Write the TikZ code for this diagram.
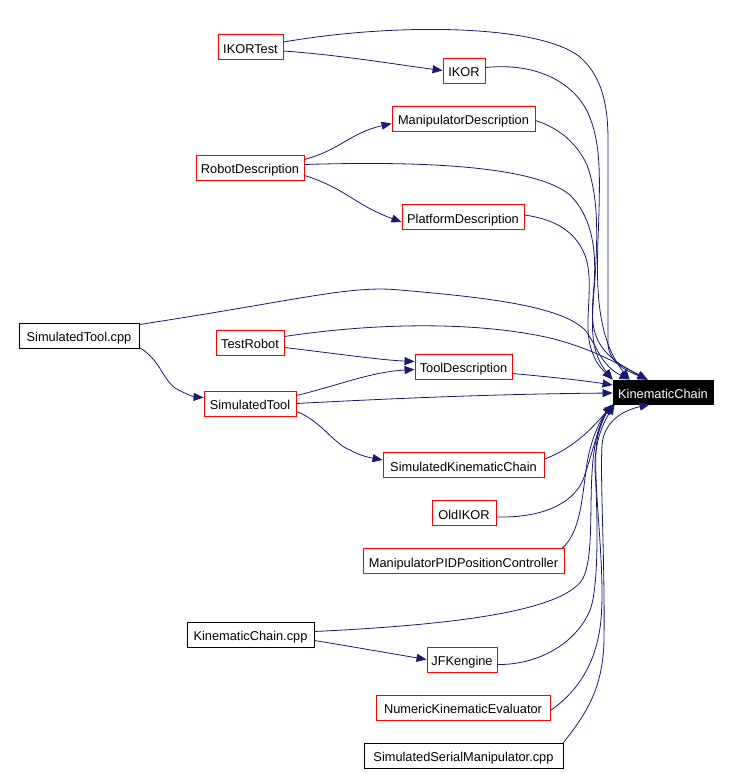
\documentclass[tikz,border=0pt]{standalone}
\usepackage{fontspec}
\setmainfont{Liberation Sans}
\usetikzlibrary{arrows.meta}
\definecolor{edgeblue}{RGB}{25,25,112}
\tikzset{
  box/.style={draw=red, line width=0.9pt, rectangle, inner sep=0pt, minimum height=25pt, text height=12pt, text depth=0pt, font=\fontsize{12.8}{15}\selectfont},
  filebox/.style={box, draw=black},
  mainbox/.style={box, draw=black, fill=black, text=white, minimum height=24pt},
  edge/.style={draw=edgeblue, line width=0.8pt, -{Triangle[length=10pt,width=8pt]}}
}
\begin{document}
\begin{tikzpicture}[x=1pt,y=-1pt]
\useasboundingbox (0,0) rectangle (731,774);
% nodes
\node[box, minimum width=65pt] (ikortest) at (250.5,47) {IKORTest};
\node[box, minimum width=42pt] (ikor) at (464,70.5) {IKOR};
\node[box, minimum width=143pt] (md) at (463.5,118.5) {ManipulatorDescription};
\node[box, minimum width=108pt] (rd) at (250,167.5) {RobotDescription};
\node[box, minimum width=122pt] (pd) at (463,217) {PlatformDescription};
\node[filebox, minimum width=120pt] (stcpp) at (79,335.5) {SimulatedTool.cpp};
\node[box, minimum width=68pt] (tr) at (250,342.5) {TestRobot};
\node[box, minimum width=97pt] (td) at (463.5,366.5) {ToolDescription};
\node[box, minimum width=92pt] (st) at (250,403.5) {SimulatedTool};
\node[mainbox, minimum width=100pt] (kc) at (663,392) {KinematicChain};
\node[box, minimum width=161pt] (skc) at (463.5,465) {SimulatedKinematicChain};
\node[box, minimum width=64pt] (oldikor) at (464,513) {OldIKOR};
\node[box, minimum width=201pt] (mppc) at (463.5,561) {ManipulatorPIDPositionController};
\node[filebox, minimum width=127pt] (kccpp) at (250.5,634.5) {KinematicChain.cpp};
\node[box, minimum width=70pt] (jfk) at (462,659.5) {JFKengine};
\node[box, minimum width=174pt] (nke) at (463,707.5) {NumericKinematicEvaluator};
\node[filebox, minimum width=199pt] (ssm) at (463.5,755.5) {SimulatedSerialManipulator.cpp};
% edges
\draw[edge] ([yshift=-4pt]ikortest.east) .. controls (340,55) and (400,65) .. (ikor.west);
\draw[edge] ([yshift=5pt]ikortest.east) .. controls (400,22) and (540,25) .. (580,57) .. controls (600,75) and (608,100) .. (608,140) -- (608,345) .. controls (610,365) and (630,372) .. ([xshift=35pt]kc.north west);
\draw[edge] ([yshift=3pt]ikor.east) .. controls (540,62) and (575,85) .. (588,113) .. controls (600,140) and (600,170) .. (599,210) .. controls (598,260) and (590,330) .. ([xshift=17pt]kc.north west);
\draw[edge] ([yshift=-2pt]md.east) .. controls (560,128) and (578,145) .. (587,165) .. controls (596,190) and (598,220) .. (596,260) .. controls (594,310) and (585,345) .. (kc.north west);
\draw[edge] ([yshift=3pt]rd.east) .. controls (450,160) and (540,170) .. (570,195) .. controls (590,215) and (597,245) .. (594,285) .. controls (590,330) and (590,350) .. ([xshift=35pt]kc.north west);
\draw[edge] ([yshift=2pt]pd.east) .. controls (560,220) and (578,235) .. (586,258) .. controls (594,285) and (584,320) .. (590,345) .. controls (595,365) and (605,372) .. (kc.north west);
\draw[edge] ([yshift=11pt]stcpp.east) .. controls (300,300) and (350,285) .. (400,290) .. controls (480,297) and (560,305) .. (585,330) .. controls (597,345) and (600,365) .. ([xshift=17pt]kc.north west);
\draw[edge] ([yshift=6pt]tr.east) .. controls (380,322) and (480,322) .. (550,338) .. controls (590,348) and (615,362) .. ([xshift=35pt]kc.north west);
\draw[edge] ([yshift=-5pt]tr.east) .. controls (340,354) and (380,360) .. ([yshift=5pt]td.west);
\draw[edge] ([yshift=8pt]st.east) .. controls (340,385) and (370,372) .. ([yshift=-3pt]td.west);
\draw[edge] (st.east) .. controls (400,398) and (500,394) .. ([yshift=-1pt]kc.west);
\draw[edge] ([yshift=-7pt]td.east) .. controls (550,377) and (580,380) .. ([yshift=7pt]kc.west);
\draw[edge] ([yshift=-12pt]stcpp.east) .. controls (160,360) and (162,378) .. (175,388) .. controls (185,394) and (195,397) .. ([yshift=6pt]st.west);
\draw[edge] ([yshift=-8pt]st.east) .. controls (320,420) and (335,445) .. (350,450) .. controls (360,456) and (372,458) .. ([yshift=5pt]skc.west);
\draw[edge] ([yshift=6pt]skc.east) .. controls (575,448) and (595,425) .. (kc.south west);
\draw[edge] ([yshift=-4pt]oldikor.east) .. controls (540,518) and (572,505) .. (583,480) .. controls (592,455) and (600,420) .. (kc.south west);
\draw[edge] ([xshift=-2pt]mppc.north east) .. controls (580,532) and (582,500) .. (586,470) .. controls (590,440) and (600,420) .. (kc.south west);
\draw[edge] ([yshift=3pt]kccpp.east) .. controls (450,625) and (560,612) .. (582,580) .. controls (600,550) and (580,450) .. (kc.south west);
\draw[edge] ([yshift=-6pt]kccpp.east) .. controls (360,648) and (400,655) .. (jfk.west);
\draw[edge] ([yshift=-5pt]jfk.east) .. controls (540,665) and (577,642) .. (590,610) .. controls (600,585) and (597,500) .. (595,470) .. controls (594,440) and (605,420) .. ([xshift=2pt]kc.south west);
\draw[edge] ([yshift=-3pt]nke.east) .. controls (580,690) and (597,660) .. (601,620) .. controls (606,560) and (590,470) .. (598,435) .. controls (602,420) and (608,410) .. ([xshift=2pt]kc.south west);
\draw[edge] (ssm.north east) .. controls (585,715) and (603,690) .. (604,640) .. controls (605,560) and (600,480) .. (602,445) .. controls (604,420) and (625,410) .. ([xshift=37pt]kc.south west);
\draw[edge] ([yshift=8pt]rd.east) .. controls (340,150) and (350,133) .. ([yshift=-5pt]md.west);
\draw[edge] ([yshift=-8pt]rd.east) .. controls (345,188) and (355,205) .. ([yshift=-5pt]pd.west);
\end{tikzpicture}
\end{document}
